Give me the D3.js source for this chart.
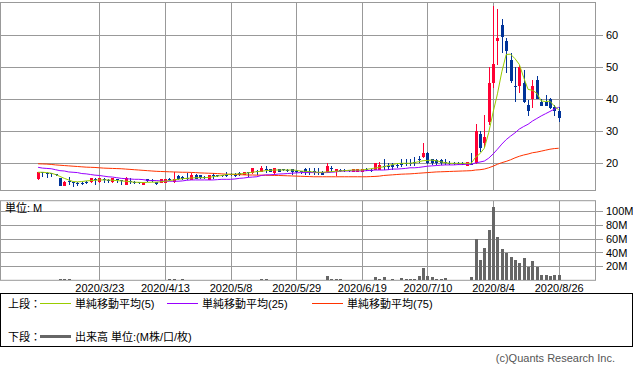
<!DOCTYPE html>
<html>
<head>
<meta charset="utf-8">
<title>chart</title>
<script src="https://d3js.org/d3.v7.min.js"></script>
<style>
  body { margin: 0; background: #fff; }
</style>
</head>
<body>
<script>
// tick labels on the date axis (index = trading day from 2020/3/2)
var tickIdx = [14, 29, 44, 59, 74, 89, 104, 119];
var tickLabels = ["2020/3/23", "2020/4/13", "2020/5/8", "2020/5/29", "2020/6/19", "2020/7/10", "2020/8/4", "2020/8/26"];
var priceTicks = [20, 30, 40, 50, 60];
var volTicks = [20, 40, 60, 80, 100];

// daily prices
var open = [15.0,17.2,17.0,16.9,16.6,15.3,13.0,14.6,14.3,14.0, 14.0,14.2,14.25,15.2,14.1,15.0,14.8,14.25,15.0,14.8,
  13.2,14.5,14.3,14.1,13.3,15.0,14.9,14.2,13.9,13.9, 15.0,14.2,16.1,15.8,15.5,14.8,16.3,16.2,15.8,14.8,
  16.3,16.2,16.2,16.5,16.8,16.5,16.9,16.35,17.3,16.9, 17.6,17.4,18.3,18.2,16.9,18.2,18.1,18.0,18.2,17.6,
  17.5,18.2,17.6,17.5,17.3,17.4,17.4,18.5,17.7,18.0, 17.9,17.9,17.4,17.4,17.4,18.1,18.0,17.9,17.9,19.2,
  19.3,19.5,19.4,20.0,20.0,20.0,20.3,21.5,22.1,23.3, 21.25,21.0,20.9,20.3,20.2,20.1,20.0,20.0,19.3,19.9,
  20.0,29.1,26.2,33.0,45.0,58.1,63.3,58.2,52.3,44.3, 44.0,45.0,38.2,40.0,46.0,39.3,39.3,40.1,37.5,36.3];
var high = [17.3,17.3,17.2,17.0,16.8,15.4,14.4,15.8,14.3,14.3, 14.2,14.6,15.5,15.4,15.4,15.3,15.0,15.4,15.2,14.9,
  15.6,15.4,14.5,14.3,14.3,15.2,15.0,14.3,15.1,15.2, 15.4,17.2,16.5,16.0,16.9,16.9,16.6,16.4,16.0,16.5,
  17.1,16.5,16.4,17.4,17.0,16.9,17.2,17.3,17.4,18.5, 17.8,19.3,19.3,18.3,18.6,18.3,18.3,18.2,18.3,17.8,
  17.7,18.4,18.4,18.4,18.4,17.5,20.0,19.2,18.2,18.2, 18.1,18.0,18.2,18.2,18.3,18.4,18.2,20.2,20.4,21.25,
  20.0,20.0,20.0,21.4,21.4,21.4,22.1,22.4,26.4,23.4, 21.5,21.3,21.25,21.25,20.8,20.5,20.3,20.3,20.4,23.1,
  32.3,30.1,35.1,50.2,69.1,68.1,65.1,59.3,54.4,50.2, 50.7,49.3,39.8,46.0,47.3,40.0,41.3,40.3,38.2,37.5];
var low = [14.9,15.8,15.3,15.8,16.0,12.9,12.9,13.2,12.7,13.0, 13.3,13.5,14.0,13.2,13.9,14.0,14.0,14.0,14.0,13.2,
  13.1,13.6,13.6,13.5,13.2,14.3,14.3,13.2,13.8,13.8, 14.5,14.0,14.8,14.9,14.9,14.7,15.0,15.1,15.0,14.7,
  15.1,15.6,15.6,15.8,16.0,15.8,16.0,16.2,15.8,16.8, 16.3,17.3,16.9,17.2,16.4,17.2,17.5,17.4,16.4,16.9,
  16.8,16.4,16.3,16.5,16.5,16.3,17.3,17.4,16.1,17.3, 17.2,17.2,17.3,17.3,17.3,17.5,17.3,17.8,17.8,17.9,
  17.9,17.9,18.4,18.9,19.3,19.3,19.3,20.0,21.8,19.8, 19.5,19.6,19.5,19.5,19.6,19.6,19.5,19.5,19.25,19.5,
  19.8,23.6,25.2,32.0,43.4,50.7,54.4,48.1,45.0,39.3, 41.9,38.9,34.8,37.2,40.0,37.8,37.8,37.0,34.8,33.0];
var close = [17.2,16.9,16.8,16.6,16.2,13.0,14.25,14.3,14.1,13.8, 13.8,14.0,15.3,14.9,15.3,14.7,14.5,15.3,14.7,14.5,
  15.5,14.2,13.9,13.8,14.2,14.6,14.5,13.4,15.0,15.0, 14.7,15.0,15.0,15.1,15.3,16.3,15.2,15.4,15.4,16.3,
  16.0,16.0,15.9,16.2,16.4,16.3,16.4,17.2,16.9,18.4, 17.3,18.4,18.1,17.4,18.4,17.4,17.8,17.6,17.3,17.3,
  17.2,17.3,17.4,17.3,17.1,16.4,19.2,18.3,18.1,17.8, 17.5,17.6,18.1,18.1,18.1,17.8,17.7,20.0,19.5,18.9,
  19.0,19.0,19.2,19.5,19.8,19.8,20.1,21.3,23.3,20.0, 20.0,20.0,20.2,20.1,20.0,19.9,19.8,19.8,20.3,19.7,
  30.1,24.9,28.3,45.0,51.0,59.2,59.6,55.0,45.7,44.1, 50.2,39.0,36.3,44.2,40.0,37.9,37.9,37.2,36.4,34.0];

// moving averages as drawn
var ma5 = [17.2,17.2,17.1,16.9,16.5,15.9,15.3,14.8,14.3,14.2, 14.3,14.5,14.6,14.7,14.8,14.8,14.8,14.7,14.6,14.5,
  14.4,14.25,14.1,14.05,14.0,14.05,14.1,14.1,14.2,14.4, 14.6,14.8,15.0,15.2,15.3,15.4,15.5,15.5,15.5,15.6,
  15.8,16.0,16.2,16.5,16.6,16.6,16.7,16.8,17.0,17.2, 17.4,17.5,17.7,17.8,17.9,17.9,17.9,17.9,17.9,17.8,
  17.6,17.5,17.4,17.3,17.2,17.2,17.3,17.4,17.5,17.6, 17.7,17.8,17.9,17.9,17.9,18.1,18.3,18.5,18.7,18.9,
  19.3,19.6,19.9,20.0,20.0,20.0,20.2,20.5,20.8,20.9, 21.0,20.8,20.5,20.2,20.0,20.0,20.0,20.0,20.0,20.0,
  21.9,23.0,24.7,29.6,35.9,41.7,48.6,54.0,54.1,52.7, 50.9,46.8,43.1,42.8,41.9,39.5,39.3,39.4,37.9,36.7];
var ma25 = [18.75,18.5,18.4,18.3,18.0,17.7,17.6,17.3,17.2,17.1, 16.8,16.7,16.5,16.3,16.2,16.0,15.8,15.7,15.5,15.3,
  15.2,15.1,15.0,15.0,14.9,14.7,14.6,14.6,14.5,14.4, 14.4,14.4,14.4,14.5,14.7,14.8,14.8,14.8,14.8,14.8,
  14.8,14.9,15.0,15.0,15.0,15.1,15.3,15.4,15.6,15.7, 15.8,16.2,16.4,16.4,16.5,16.65,16.7,16.8,16.9,17.0,
  17.1,17.1,17.1,17.1,17.1,17.1,17.1,17.2,17.3,17.5, 17.6,17.6,17.6,17.6,17.6,17.7,17.8,17.9,17.9,17.9,
  18.0,18.2,18.2,18.3,18.4,18.6,18.6,18.7,18.9,19.1, 19.2,19.3,19.4,19.5,19.5,19.5,19.6,19.6,19.7,19.7,
  20.1,20.4,20.7,21.6,22.9,24.4,26.0,27.4,28.5,29.5, 30.7,31.5,32.2,33.2,34.0,34.8,35.5,36.2,36.9,37.5];
var ma75 = [19.85,19.8,19.75,19.65,19.5,19.4,19.3,19.2,19.1,19.0, 18.9,18.8,18.75,18.7,18.6,18.5,18.45,18.4,18.35,18.3,
  18.2,18.1,18.0,17.9,17.8,17.7,17.6,17.5,17.45,17.4, 17.35,17.3,17.25,17.2,17.2,17.15,17.1,17.0,16.95,16.9,
  16.85,16.8,16.7,16.6,16.55,16.5,16.45,16.4,16.35,16.35, 16.3,16.3,16.25,16.25,16.2,16.2,16.15,16.1,16.05,16.0,
  15.95,15.9,15.85,15.8,15.8,15.8,15.8,15.8,15.8,15.8, 15.8,15.8,15.8,15.8,15.8,15.8,15.85,15.9,16.0,16.2,
  16.3,16.4,16.5,16.6,16.65,16.7,16.8,16.9,17.0,17.1, 17.2,17.3,17.35,17.4,17.45,17.5,17.55,17.6,17.65,17.7,
  17.9,18.0,18.2,18.6,19.1,19.7,20.2,20.6,21.1,21.7, 22.2,22.6,22.9,23.3,23.5,23.8,24.1,24.4,24.6,24.7];

// volume (M)
var volume = [1.0,1.0,1.0,1.0,1.0,2.0,2.0,2.0,0.4,0.3, 0.4,0.3,0.4,0.3,0.3,0.4,0.3,0.4,0.3,0.4,
  0.3,0.4,0.3,0.3,0.4,0.3,0.4,0.3,0.4,0.3, 1.8,1.9,0.6,1.7,0.4,0.3,0.4,0.3,0.3,0.4,
  0.3,0.4,0.3,0.3,0.4,0.3,0.4,0.3,0.5,0.4, 0.4,2.5,1.4,0.4,0.3,0.4,0.3,0.3,0.4,0.3,
  0.3,0.4,0.3,0.4,0.3,0.4,6.2,2.2,1.9,2.0, 0.3,0.4,0.3,0.3,0.4,0.3,0.3,4.3,2.2,4.8,
  0.6,2.0,0.6,3.0,2.2,2.0,2.2,6.2,17.7,6.2, 4.8,2.5,2.5,3.4,0.4,0.3,0.4,0.3,0.3,4.8,
  59,29.2,47,72.4,106,62.8,45.5,38.8,34,29.2, 25.4,32.6,19.6,28.3,18.7,7.6,7.6,6.2,7.6,7.6];

var upColor = "#ff0033", downColor = "#003399", gridColor = "#999999";

var svg = d3.select("body").append("svg")
    .attr("width", 633)
    .attr("height", 373)
    .style("font-family", "'Liberation Sans', Arial, 'Noto Sans CJK JP', sans-serif");

var plotW = 595;
var pTop = 2, pBot = 190, vTop = 200.7, vBot = 280.3;

var x = d3.scaleLinear().domain([-8.7, 127.3]).range([0, plotW]);
var y = d3.scaleLinear().domain([11.66, 70.4]).range([pBot, pTop]);
var yv = d3.scaleLinear().domain([0, 114.5]).range([vBot, vTop]);

function styleAxis(g) {
  g.select(".domain").remove();
  g.selectAll(".tick line").attr("stroke", gridColor).attr("shape-rendering", "crispEdges");
  g.selectAll(".tick text").attr("fill", "#000").style("font-size", "11px");
}

// ---- price panel ----
svg.append("g")
    .attr("transform", "translate(0," + pBot + ")")
    .call(d3.axisBottom(x).tickValues(tickIdx).tickSize(-(pBot - pTop)).tickFormat(""))
    .call(styleAxis);

svg.append("g")
    .attr("transform", "translate(603,0)")
    .call(d3.axisRight(y).tickValues(priceTicks).tickSize(-603).tickPadding(3))
    .call(styleAxis);

svg.append("rect")
    .attr("x", 0.5).attr("y", pTop + 0.5)
    .attr("width", plotW).attr("height", pBot - pTop)
    .attr("fill", "none").attr("stroke", gridColor);

var candles = svg.append("g").attr("shape-rendering", "crispEdges");
d3.range(open.length).forEach(function(i) {
  var col = close[i] >= open[i] ? upColor : downColor;
  var xc = Math.round(x(i));
  candles.append("line")
      .attr("x1", xc + 0.5).attr("x2", xc + 0.5)
      .attr("y1", y(high[i])).attr("y2", y(low[i]))
      .attr("stroke", col);
  var yt = y(Math.max(open[i], close[i])), yb = y(Math.min(open[i], close[i]));
  candles.append("rect")
      .attr("x", xc - 1).attr("width", 3)
      .attr("y", yt).attr("height", Math.max(1, yb - yt))
      .attr("fill", col);
});

var line = d3.line()
    .x(function(d, i) { return x(i); })
    .y(function(d) { return y(d); });

[[ma75, "#ff3300"], [ma25, "#9900ff"], [ma5, "#99cc00"]].forEach(function(s) {
  svg.append("path")
      .datum(s[0])
      .attr("fill", "none")
      .attr("stroke", s[1])
      .attr("stroke-width", 1)
      .attr("d", line);
});

// ---- volume panel ----
svg.append("g")
    .attr("transform", "translate(0," + vBot + ")")
    .call(d3.axisBottom(x).tickValues(tickIdx).tickSize(-(vBot - vTop))
      .tickPadding(4)
      .tickFormat(function(d) { return tickLabels[tickIdx.indexOf(d)]; }))
    .call(styleAxis);

svg.append("g")
    .attr("transform", "translate(603,0)")
    .call(d3.axisRight(yv).tickValues(volTicks).tickSize(-603).tickPadding(3)
      .tickFormat(function(d) { return d + "M"; }))
    .call(styleAxis);

svg.append("rect")
    .attr("x", 0.5).attr("y", vTop)
    .attr("width", plotW).attr("height", vBot - vTop)
    .attr("fill", "none").attr("stroke", gridColor);

svg.append("g").attr("shape-rendering", "crispEdges")
  .selectAll("rect")
  .data(volume)
  .enter().append("rect")
    .attr("x", function(d, i) { return Math.round(x(i)) - 1; })
    .attr("width", 3)
    .attr("y", function(d) { return yv(d); })
    .attr("height", function(d) { return vBot - yv(d); })
    .attr("fill", "#666666");

svg.append("text")
    .attr("x", 5).attr("y", 211.5)
    .style("font-size", "11px")
    .text("単位: M");

// ---- legend ----
svg.append("rect")
    .attr("x", 0.5).attr("y", 293.5)
    .attr("width", 632).attr("height", 53)
    .attr("fill", "none").attr("stroke", "#000");

var legendY1 = 303.5, legendY2 = 336.5;
var leg = svg.append("g").style("font-size", "11px");

leg.append("text").attr("x", 8).attr("y", legendY1 + 4).text("上段：");
[[40, "#99cc00", "単純移動平均(5)"], [167, "#9900ff", "単純移動平均(25)"], [312, "#ff3300", "単純移動平均(75)"]]
  .forEach(function(d) {
    leg.append("line")
        .attr("x1", d[0]).attr("x2", d[0] + 31)
        .attr("y1", legendY1).attr("y2", legendY1)
        .attr("stroke", d[1]);
    leg.append("text").attr("x", d[0] + 35).attr("y", legendY1 + 4).text(d[2]);
  });

leg.append("text").attr("x", 8).attr("y", legendY2 + 4).text("下段：");
leg.append("line")
    .attr("x1", 40).attr("x2", 71)
    .attr("y1", legendY2).attr("y2", legendY2)
    .attr("stroke", "#666666").attr("stroke-width", 3);
leg.append("text").attr("x", 75).attr("y", legendY2 + 4).text("出来高 単位:(M株/口/枚)");

svg.append("text")
    .attr("x", 615).attr("y", 362)
    .attr("text-anchor", "end")
    .style("font-size", "11px")
    .attr("fill", "#555")
    .text("(c)Quants Research Inc.");
</script>
</body>
</html>
